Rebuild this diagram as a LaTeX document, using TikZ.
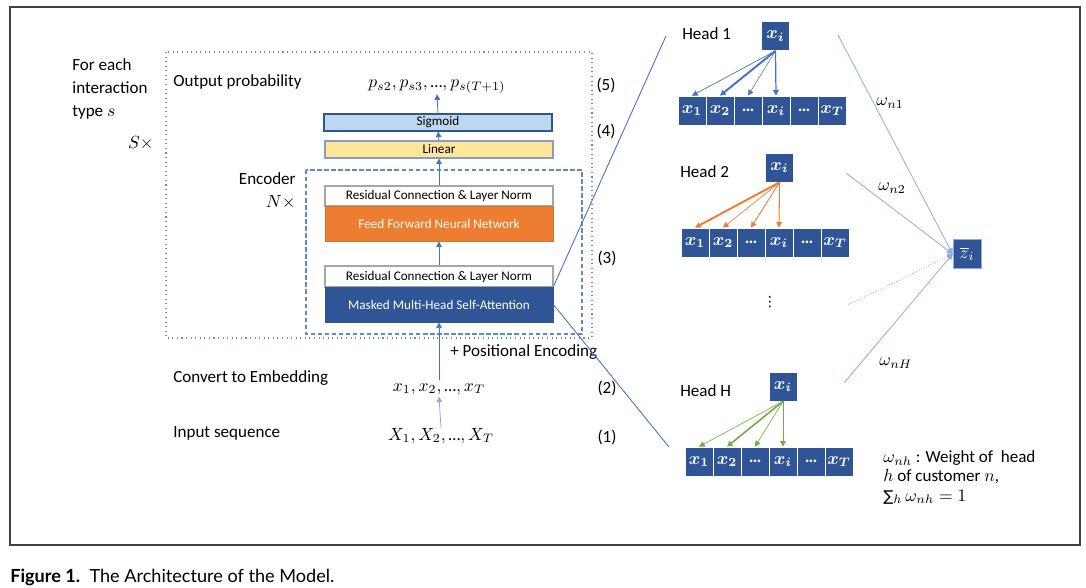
\documentclass[tikz,border=0pt]{standalone}
\usepackage{amsmath,bm}
\usepackage{fontspec}
\setmainfont{Carlito}
\newfontfamily\capfont{Lato}
\newfontfamily\dvfont{DejaVu Sans}
\usetikzlibrary{arrows.meta}
\definecolor{dblue}{HTML}{2F5597}
\definecolor{ablue}{HTML}{4472C4}
\definecolor{lblue}{HTML}{8FAADC}
\definecolor{orng}{HTML}{ED7D31}
\definecolor{grn}{HTML}{70AD47}
\definecolor{sigfill}{HTML}{BDD7EE}
\definecolor{linfill}{HTML}{FFE699}
\definecolor{frame}{HTML}{404040}
\newcommand{\ellip}{\text{…}}
\begin{document}
\begin{tikzpicture}[x=0.02cm,y=-0.02cm,
  lbl/.style={font=\fontsize{9.7}{13.3}\selectfont, inner sep=0},
  layer/.style={minimum width=4.56cm, inner sep=0, font=\fontsize{7.5}{9}\selectfont},
  tok/.style={fill=dblue, draw=white, line width=0.4pt, minimum width=0.56cm, minimum height=0.58cm, inner sep=0, text=white, font=\fontsize{10}{12}\selectfont},
  tip/.style={-{Triangle[length=3.2pt,width=3.2pt]}},
  arr/.style={ablue, line width=0.45pt, tip},
  oarr/.style={orng, tip},
  garr/.style={grn, tip},
  zline/.style={lblue, line width=0.45pt, tip}
]
\useasboundingbox (0,0) rectangle (1086,588);
\draw[frame, line width=0.9pt] (10,7) rectangle (1080,545);
% outer S-box and encoder box
\draw[lblue!80!black, line width=0.6pt, dotted] (166,52) rectangle (592,338);
\draw[ablue!85, line width=0.6pt, dash pattern=on 2.5pt off 1.5pt] (306,170) rectangle (582,334);
% left labels
\node[lbl, anchor=west, align=left] (each) at (72,89) {For each\\interaction\\type $s$};
\node[lbl, anchor=east] (S) at (154,143) {$S\times$};
\node[lbl, anchor=west] (op) at (173,82) {Output probability};
\node[lbl, anchor=east] (enc) at (296,179) {Encoder};
\node[lbl, anchor=east] (N) at (296,202) {$N\times$};
\node[lbl, anchor=west] (cte) at (173,378) {Convert to Embedding};
\node[lbl, anchor=west] (ins) at (173,433) {Input sequence};
\node[lbl, anchor=west] (pe) at (450,352) {+ Positional Encoding};
% numbers
\node[lbl] (n5) at (606,85) {(5)};
\node[lbl] (n4) at (606,131) {(4)};
\node[lbl] (n3) at (607,258) {(3)};
\node[lbl] (n2) at (607,388) {(2)};
\node[lbl] (n1) at (607,437) {(1)};
% stack
\node[lbl] (out) at (437,87) {$p_{s2}, p_{s3}, \ellip, p_{s(T+1)}$};
\node[layer, draw=dblue, fill=sigfill, line width=0.6pt, minimum height=0.34cm] (sig) at (438,122.5) {Sigmoid};
\node[layer, draw=lblue!70!gray, fill=linfill, line width=0.6pt, minimum height=0.34cm] (lin) at (439,149.5) {Linear};
\node[layer, draw=gray!70, fill=white, line width=0.6pt, minimum height=0.40cm] (res1) at (439,196) {Residual Connection \& Layer Norm};
\node[layer, draw=orng!90!black, fill=orng, text=white, line width=0.5pt, minimum height=0.70cm] (ffn) at (439,223.5) {Feed Forward Neural Network};
\node[layer, draw=gray!70, fill=white, line width=0.6pt, minimum height=0.42cm] (res2) at (439,276.5) {Residual Connection \& Layer Norm};
\node[layer, draw=dblue, fill=dblue, text=white, line width=0.5pt, minimum height=0.70cm] (mm) at (439,304.5) {Masked Multi-Head Self-Attention};
\node[lbl] (xs) at (439,389) {$x_1, x_2, \ellip, x_T$};
\node[lbl] (Xs) at (441,436) {$X_1, X_2, \ellip, X_T$};
\draw[arr] (sig.north) -- (out.south);
\draw[arr] (lin.north) -- (sig.south);
\draw[arr] (res1.north) -- (lin.south);
\draw[arr] (res2.north) -- (ffn.south);
\draw[arr] ([yshift=2pt]xs.north) -- (mm.south);
\draw[arr, ablue!60] (Xs.north) -- ([yshift=-1pt]xs.south);
% head fan lines
\coordinate (t1) at (666,36);
\coordinate (t2) at (669,447);
\draw[ablue, line width=0.5pt] (mm.north east) -- (t1);
\draw[ablue, line width=0.5pt] (mm.east) -- (t2);
% Head 1
\node[lbl, anchor=west] (hd1) at (682,34) {Head 1};
\node[tok] (h1x) at (775.5,36) {$\bm{x_i}$};
\node[tok] (h1a) at (692,110.5) {$\bm{x_1}$};
\node[tok] (h1b) at (720,110.5) {$\bm{x_2}$};
\node[tok] (h1c) at (748,110.5) {\textbf{…}};
\node[tok] (h1d) at (776,110.5) {$\bm{x_i}$};
\node[tok] (h1e) at (804,110.5) {\textbf{…}};
\node[tok] (h1f) at (832,110.5) {$\bm{x_T}$};
\draw[arr, line width=0.4pt] (h1x.south) -- (h1a.north);
\draw[arr, line width=1.1pt] (h1x.south) -- (h1b.north);
\draw[arr, line width=0.3pt] (h1x.south) -- (h1c.north);
\draw[arr, line width=0.7pt] (h1x.south) -- (h1d.north);
% Head 2
\node[lbl, anchor=west] (hd2) at (680,172) {Head 2};
\node[tok] (h2x) at (779.5,167.5) {$\bm{x_i}$};
\node[tok] (h2a) at (695,242.5) {$\bm{x_1}$};
\node[tok] (h2b) at (723,242.5) {$\bm{x_2}$};
\node[tok] (h2c) at (751,242.5) {\textbf{…}};
\node[tok] (h2d) at (779,242.5) {$\bm{x_i}$};
\node[tok] (h2e) at (807,242.5) {\textbf{…}};
\node[tok] (h2f) at (835,242.5) {$\bm{x_T}$};
\draw[oarr, line width=1.1pt] (h2x.south) -- (h2a.north);
\draw[oarr, line width=0.35pt] (h2x.south) -- (h2b.north);
\draw[oarr, line width=0.5pt] (h2x.south) -- (h2c.north);
\draw[oarr, line width=0.6pt] (h2x.south) -- (h2d.north);
% dots
\node[font=\dvfont\fontsize{8}{9}\selectfont, inner sep=0] (vd) at (770,302) {⋮};
% Head H
\node[lbl, anchor=west] (hdH) at (680,391) {Head H};
\node[tok] (hHx) at (783,386.5) {$\bm{x_i}$};
\node[tok] (hHa) at (699,461.5) {$\bm{x_1}$};
\node[tok] (hHb) at (727,461.5) {$\bm{x_2}$};
\node[tok] (hHc) at (755,461.5) {\textbf{…}};
\node[tok] (hHd) at (783,461.5) {$\bm{x_i}$};
\node[tok] (hHe) at (811,461.5) {\textbf{…}};
\node[tok] (hHf) at (839,461.5) {$\bm{x_T}$};
\draw[garr, line width=0.35pt] (hHx.south) -- (hHa.north);
\draw[garr, line width=0.9pt] (hHx.south) -- (hHb.north);
\draw[garr, line width=0.35pt] (hHx.south) -- (hHc.north);
\draw[garr, line width=0.5pt] (hHx.south) -- (hHd.north);
% z_i
\node[tok, draw=lblue] (z) at (967,254) {$\overline{z}_i$};
\coordinate (c1) at (838,35);
\coordinate (c2) at (846,173);
\coordinate (c3) at (848,305);
\coordinate (c4) at (844,383);
\draw[zline] (c1) -- (z.west);
\draw[zline] (c2) -- (z.west);
\draw[zline, densely dotted] (c3) -- (z.west);
\draw[zline] (c4) -- (z.west);
\node[lbl, anchor=west] (w1) at (876,103) {$\omega_{n1}$};
\node[lbl, anchor=west] (w2) at (878,188) {$\omega_{n2}$};
\node[lbl, anchor=west] (wH) at (879,363) {$\omega_{nH}$};
% legend
\node[lbl, anchor=west] (lg1) at (883,458) {$\omega_{nh}$ : Weight of\ \ head};
\node[lbl, anchor=west] (lg2) at (883,476) {$h$ of customer $n$,};
\node[lbl, anchor=west] (lg3) at (883,497) {{\dvfont\fontsize{8.5}{9}\selectfont ∑}$_h\,\omega_{nh}=1$};
% caption
\node[anchor=west, inner sep=0, font=\capfont\fontsize{10.3}{12}\selectfont] (cap) at (10,577) {\textbf{Figure 1.}\ \ The Architecture of the Model.};
\end{tikzpicture}
\end{document}
